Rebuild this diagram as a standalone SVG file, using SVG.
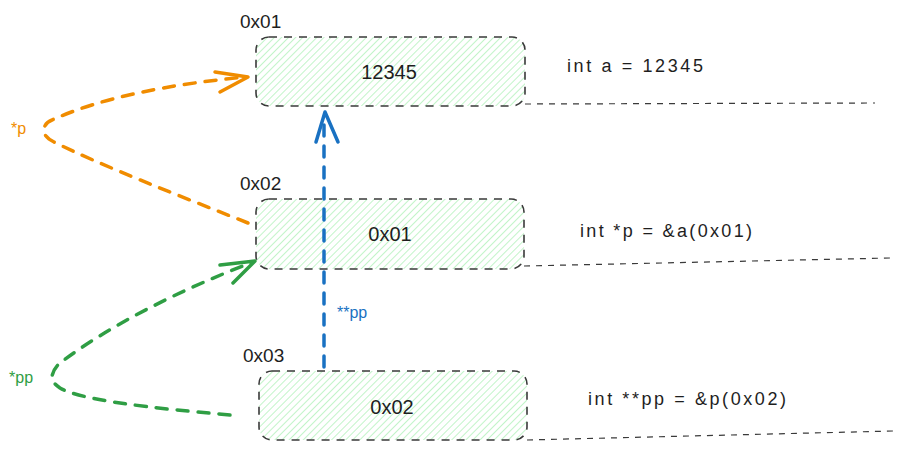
<svg xmlns="http://www.w3.org/2000/svg" width="909" height="451" viewBox="0 0 909 451">
<style>
  .box { fill: url(#hatch); stroke: #3a3a3a; stroke-width: 1.6; stroke-dasharray: 8 7; }
  .guide { fill: none; stroke: #3a3a3a; stroke-width: 1.2; stroke-dasharray: 6 6; }
  .t { font-family: "Liberation Sans", "DejaVu Sans", sans-serif; fill: #1e1e1e; }
  .lbl { font-size: 19px; }
  .val { font-size: 20px; text-anchor: middle; }
  .code { font-size: 18px; }
  .arr { fill: none; stroke-width: 3.5; stroke-linecap: round; stroke-dasharray: 11 10; }
  .head { fill: none; stroke-width: 3.5; stroke-linecap: round; stroke-linejoin: round; }
  .orange { stroke: #f08c00; }
  .green { stroke: #2f9e44; }
  .blue { stroke: #1971c2; }
</style>
<defs>
  <pattern id="hatch" width="5" height="5" patternUnits="userSpaceOnUse" patternTransform="rotate(45)">
    <line x1="0" y1="0" x2="0" y2="5" stroke="#b2f2bb" stroke-width="1.6"/>
  </pattern>
</defs>
<rect width="909" height="451" fill="#ffffff"/>

<g id="node-a">
  <rect class="box" x="256" y="37" width="269" height="69" rx="13"/>
  <text class="t lbl" x="240" y="28">0x01</text>
  <text class="t val" x="389" y="79">12345</text>
</g>
<g id="node-p">
  <rect class="box" x="256" y="199" width="268" height="70" rx="13"/>
  <text class="t lbl" x="240" y="190">0x02</text>
  <text class="t val" x="390" y="241">0x01</text>
</g>
<g id="node-pp">
  <rect class="box" x="259" y="371" width="268" height="69" rx="13"/>
  <text class="t lbl" x="243" y="362">0x03</text>
  <text class="t val" x="392" y="414">0x02</text>
</g>

<g id="decls">
  <text class="t code" x="567" y="72" textLength="136" lengthAdjust="spacing">int a = 12345</text>
  <text class="t code" x="580" y="237" textLength="172" lengthAdjust="spacing">int *p = &amp;a(0x01)</text>
  <text class="t code" x="588" y="405" textLength="198" lengthAdjust="spacing">int **pp = &amp;p(0x02)</text>
  <path class="guide" d="M525,104 L875,103"/>
  <path class="guide" d="M524,266 L890,258"/>
  <path class="guide" d="M527,440 L893,431"/>
</g>

<g id="connectors">
  <path class="arr orange" d="M248,223 C180,196 100,165 54,142 Q42,136 44,128 Q46,122 52,120 C100,98 170,84 246,77"/>
  <path class="head orange" d="M215,72 L248,77 L220,92"/>
  <text class="t" x="11" y="134" font-size="16" style="fill:#f08c00">*p</text>

  <path class="arr green" d="M230,415 C150,408 80,400 60,388 Q51,382 52,376 Q54,368 60,363 C110,325 180,290 253,262"/>
  <path class="head green" d="M220,265 L255,261 L233,283"/>
  <text class="t" x="9" y="383" font-size="16" style="fill:#2f9e44">*pp</text>

  <path class="arr blue" d="M324,367 L324,116"/>
  <path class="head blue" d="M316,142 L325,112 L338,142"/>
  <text class="t" x="337" y="318" font-size="16" style="fill:#1971c2">**pp</text>
</g>
</svg>
